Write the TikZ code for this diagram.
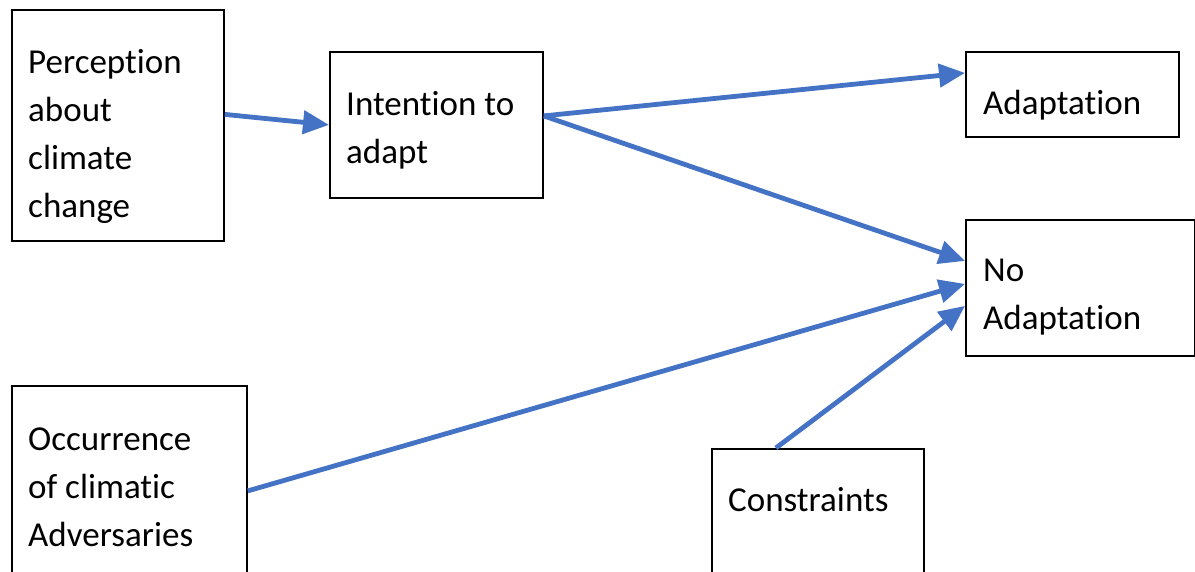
\documentclass[tikz,border=0pt]{standalone}
\usepackage{fontspec}
\setmainfont{Carlito}[Ligatures=NoCommon]
\usetikzlibrary{arrows.meta}
\definecolor{arrowblue}{HTML}{4472C4}
\begin{document}
\begin{tikzpicture}[x=1pt,y=1pt,
  box/.style={draw=black, line width=1.8pt, rectangle, anchor=north west, inner sep=0pt},
  lbl/.style={anchor=base west, align=left, inner sep=0pt, font=\fontsize{35}{48}\selectfont},
  conn/.style={draw=arrowblue, line width=4.8pt, -{Triangle[length=26pt,width=23pt]}}]
\useasboundingbox (0,0) rectangle (1195,-571);
\node[box, minimum width=212pt, minimum height=231pt] (perc) at (11,-9) {};
\node[box, minimum width=213pt, minimum height=146pt] (int) at (329,-51) {};
\node[box, minimum width=213pt, minimum height=85pt] (ad) at (965,-51) {};
\node[box, minimum width=229pt, minimum height=136pt] (noad) at (965,-219) {};
\node[box, minimum width=235pt, minimum height=200pt] (occ) at (11,-385) {};
\node[box, minimum width=212pt, minimum height=150pt] (con) at (711,-448) {};
\node[lbl] (percT) at (28,-217) {Perception\\about\\climate\\change};
\node[lbl] (intT) at (346,-163) {Intention to\\adapt};
\node[lbl] (adT) at (983,-114) {Adaptation};
\node[lbl] (noadT) at (983,-329) {No\\Adaptation};
\node[lbl] (occT) at (28,-546) {Occurrence\\of climatic\\Adversaries};
\node[lbl] (conT) at (728,-511) {Constraints};
\draw[conn] ([yshift=11pt]perc.east) -- (int.west);
\draw[conn] ([yshift=9pt]int.east) -- ([yshift=21.5pt]ad.west);
\draw[conn] ([yshift=9pt]int.east) -- ([yshift=27pt]noad.west);
\draw[conn] ([yshift=-5pt]occ.east) -- ([yshift=4pt]noad.west);
\draw[conn] ([xshift=-42pt]con.north) -- ([yshift=-18pt]noad.west);
\end{tikzpicture}
\end{document}
